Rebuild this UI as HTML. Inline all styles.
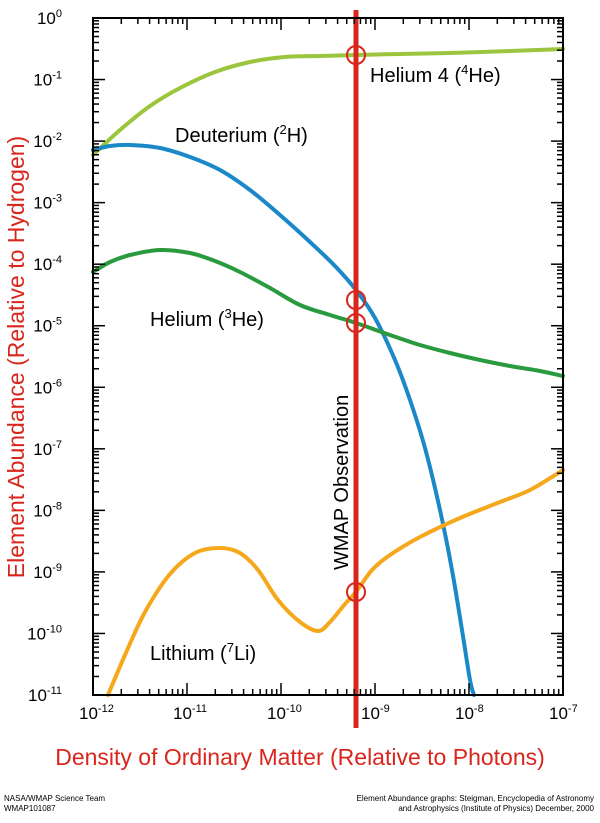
<!DOCTYPE html>
<html><head><meta charset="utf-8"><style>
body{margin:0;background:#fff;width:600px;height:818px;overflow:hidden;font-family:"Liberation Sans",Arial,sans-serif}
</style></head><body>
<svg id="s" width="600" height="818" xmlns="http://www.w3.org/2000/svg" font-family="Liberation Sans, Arial, sans-serif">
<g id="curves" fill="none" stroke-width="4" stroke-linejoin="round" stroke-linecap="round">
<path stroke="#9bc53d" data-p="93,155 120,130 150,106 180,88 215,72 250,62 285,57 320,56 356,55 400,54 450,53 510,51 563,49"/>
<path stroke="#1b88c8" data-p="93,150 110,146 130,145 160,148 190,157 220,170 250,190 280,215 310,242 335,266 356,290 375,318 395,360 410,400 425,448 440,510 452,570 462,630 470,680 474,695"/>
<path stroke="#2a9a3e" data-p="93,272 110,262 130,255 160,250 190,253 215,261 240,272 270,288 300,305 330,315 356,323 390,335 420,345 450,353 480,360 510,366 540,371 563,376"/>
<path stroke="#f5a81c" data-p="108,695 125,655 145,612 170,574 195,553 220,548 240,553 258,570 278,600 300,622 318,631 330,622 345,604 356,592 372,570 390,555 420,537 460,518 500,502 530,490 563,470"/>
</g>
<line x1="356" y1="10" x2="356" y2="728" stroke="#d9261c" stroke-width="5"/>
<g fill="none" stroke="#d9261c" stroke-width="2">
<circle cx="356" cy="55" r="9"/><circle cx="356" cy="300" r="9"/><circle cx="356" cy="323" r="9"/><circle cx="356" cy="592" r="9"/>
</g>
<rect x="93" y="18" width="470" height="677" fill="none" stroke="#000" stroke-width="2"/>
<g id="ticks" stroke="#000" stroke-width="1.5"></g>
<g id="lbl" font-size="17" fill="#000"></g>
<g font-size="20" fill="#000">
<text x="370" y="82">Helium 4 (<tspan font-size="13" dy="-8">4</tspan><tspan dy="8">He)</tspan></text>
<text x="175" y="142">Deuterium (<tspan font-size="13" dy="-8">2</tspan><tspan dy="8">H)</tspan></text>
<text x="150" y="326">Helium (<tspan font-size="13" dy="-8">3</tspan><tspan dy="8">He)</tspan></text>
<text x="150" y="660">Lithium (<tspan font-size="13" dy="-8">7</tspan><tspan dy="8">Li)</tspan></text>
<text transform="translate(348,570) rotate(-90)" font-size="20">WMAP Observation</text>
</g>
<text transform="translate(24,357) rotate(-90)" text-anchor="middle" font-size="23" fill="#d9261c">Element Abundance (Relative to Hydrogen)</text>
<text x="300" y="765" text-anchor="middle" font-size="23" fill="#d9261c">Density of Ordinary Matter (Relative to Photons)</text>
<g font-size="8" fill="#000">
<text x="4" y="801">NASA/WMAP Science Team</text>
<text x="4" y="811">WMAP101087</text>
<text x="594" y="801" text-anchor="end">Element Abundance graphs: Steigman, Encyclopedia of Astronomy</text>
<text x="594" y="811" text-anchor="end">and Astrophysics (Institute of Physics) December, 2000</text>
</g>
</svg>
<script>
var NS="http://www.w3.org/2000/svg",t=document.getElementById("ticks"),l=document.getElementById("lbl");
document.querySelectorAll("#curves path").forEach(function(p){
var pts=p.getAttribute("data-p").split(" ").map(function(s){return s.split(",").map(Number)});
var d="M"+pts[0][0]+","+pts[0][1];
for(var i=0;i<pts.length-1;i++){var p0=pts[Math.max(i-1,0)],p1=pts[i],p2=pts[i+1],p3=pts[Math.min(i+2,pts.length-1)];
d+=" C"+(p1[0]+(p2[0]-p0[0])/6)+","+(p1[1]+(p2[1]-p0[1])/6)+" "+(p2[0]-(p3[0]-p1[0])/6)+","+(p2[1]-(p3[1]-p1[1])/6)+" "+p2[0]+","+p2[1];}
p.setAttribute("d",d);p.removeAttribute("data-p");});
function ln(a,b,c,d){var e=document.createElementNS(NS,"line");e.setAttribute("x1",a);e.setAttribute("y1",b);e.setAttribute("x2",c);e.setAttribute("y2",d);t.appendChild(e);}
var L=93,R=563,T=18,B=695,dx=(R-L)/5,dy=(B-T)/11;
for(var i=0;i<5;i++)for(var k=1;k<10;k++){var x=L+dx*(i+Math.log10(k));var s=k==1?12:6;ln(x,B,x,B-s);ln(x,T,x,T+s);}
for(var i=0;i<11;i++)for(var k=1;k<10;k++){var y=B-dy*(i+Math.log10(k));var s=k==1?12:6;ln(L,y,L+s,y);ln(R,y,R-s,y);}
function tx(x,y,e,anc){var g=document.createElementNS(NS,"text");g.setAttribute("x",x);g.setAttribute("y",y);g.setAttribute("text-anchor",anc);g.innerHTML='10<tspan font-size="11" dy="-7">'+e+'</tspan>';l.appendChild(g);}
for(var i=0;i<=5;i++)tx(L+dx*i-14,719,-12+i,"start");
for(var i=0;i<=11;i++)tx(62,T+dy*i+6,i==0?"0":-i,"end");
</script>
</body></html>
